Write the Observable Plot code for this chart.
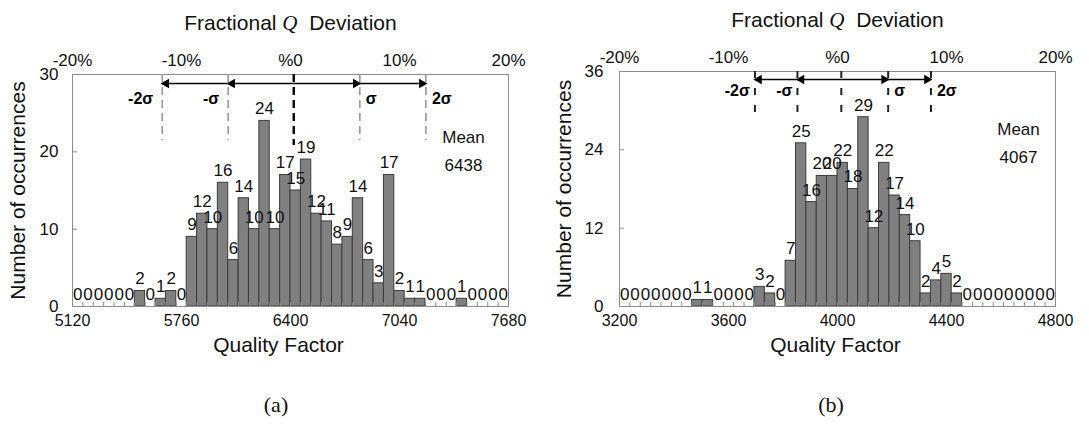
<!DOCTYPE html>
<html><head><meta charset="utf-8">
<script src="https://cdn.jsdelivr.net/npm/d3@7"></script>
<script src="https://cdn.jsdelivr.net/npm/@observablehq/plot@0.6"></script>
<style>
body{margin:0;background:#fff;}
#wrap{width:1089px;height:430px;position:relative;overflow:hidden;}
#row{display:flex;}
.cap{position:absolute;top:392px;line-height:26px;font-family:"Liberation Serif","Times New Roman",serif;font-size:22px;color:#111;transform:translateX(-50%);}
</style></head><body>
<div id="wrap"><div id="row"></div>
<div class="cap" style="left:276px">(a)</div>
<div class="cap" style="left:831px">(b)</div>
</div>
<script>
// ---------- data ----------
const binRangeA = [5120, 7680];
const countsA = [0,0,0,0,0,0,2,0,1,2,0,9,12,10,16,6,14,10,24,10,17,15,19,12,11,8,9,14,6,3,17,2,1,1,0,0,0,1,0,0,0,0];
const xTicksA = [5120, 5760, 6400, 7040, 7680];
const yTicksA = [0, 10, 20, 30];
const sigmaLinesA = [5647, 6034, 6419, 6807, 7195];
const meanA = "6438";

const binRangeB = [3200, 4800];
const countsB = [0,0,0,0,0,0,0,1,1,0,0,0,0,3,2,0,7,25,16,20,20,22,18,29,12,22,17,14,10,2,4,5,2,0,0,0,0,0,0,0,0,0];
const xTicksB = [3200, 3600, 4000, 4400, 4800];
const yTicksB = [0, 12, 24, 36];
const sigmaLinesB = [3697, 3853, 4014, 4186, 4343];
const meanB = "4067";

const topTickLabels = ["-20%", "-10%", "%0", "10%", "20%"];
const sigmaLabels = ["-2σ", "-σ", "", "σ", "2σ"];
const xTitle = "Quality Factor";
const yTitle = "Number of occurrences";
const topTitle = "Fractional Q Deviation";
const meanLabel = "Mean";

// ---------- drawing ----------
const FONT = "Liberation Sans, Arial, sans-serif";

function panel(cfg) {
  const {counts, range, xTicks, yTicks, sigma, mean, width, height, ml, mr, mt, mb, st} = cfg;
  const n = counts.length;
  const w = (range[1] - range[0]) / n;
  const bins = counts.map((c, i) => ({x1: range[0] + i * w, x2: range[0] + (i + 1) * w, c}));
  const edges = bins.map(d => d.x1).slice(1);
  const yMax = yTicks[yTicks.length - 1];
  const frameW = width - ml - mr, frameH = height - mt - mb;
  const sig = sigma.map((x, i) => ({x, label: sigmaLabels[i], i}));
  const top = () => yMax;
  const svg = Plot.plot({
    width, height, marginLeft: ml, marginRight: mr, marginTop: mt, marginBottom: mb,
    x: {domain: range}, y: {domain: [0, yMax]},
    style: {fontFamily: FONT, color: "#111", background: "#fff", overflow: "visible"},
    marks: [
      Plot.rectY(bins.filter(d => d.c > 0), {x1: "x1", x2: "x2", y: "c", fill: "#808080", stroke: "#3c3c3c", strokeWidth: 1}),
      Plot.tickX(edges, {x: d => d, stroke: "#8c8c8c", insetTop: frameH - 4}),
      Plot.tickY(yTicks.slice(1, -1), {y: d => d, stroke: "#8c8c8c", insetRight: frameW - 5}),
      Plot.frame({stroke: "#8c8c8c"}),
      Plot.axisX({anchor: "bottom", ticks: xTicks, tickSize: 0, tickPadding: 8, fontSize: 16, label: null,
                  tickFormat: d => String(d)}),
      Plot.axisX({anchor: "top", ticks: xTicks, tickSize: 0, tickPadding: 9, fontSize: 17, label: null,
                  tickFormat: d => topTickLabels[xTicks.indexOf(d)]}),
      Plot.axisY({ticks: yTicks, tickSize: 0, tickPadding: st.yPad, fontSize: 17, label: null,
                  tickFormat: d => String(d)}),
      // sigma dashed lines
      Plot.ruleX(sig.filter(d => d.i !== 2), {x: "x", stroke: st.dashColor, strokeWidth: st.dashWidth,
                  strokeDasharray: st.dash, insetBottom: frameH - st.dashLen}),
      Plot.ruleX(sig.filter(d => d.i === 2), {x: "x", stroke: st.centerColor, strokeWidth: st.centerWidth,
                  strokeDasharray: st.dash, insetBottom: frameH - st.centerLen}),
      // arrows
      Plot.ruleY([yMax], {x1: sigma[0], x2: sigma[4], dy: st.arrowDy, stroke: "#000", strokeWidth: 1.5}),
      Plot.dot(sig.filter(d => d.i < 2), {x: "x", y: top, dx: 4, dy: st.arrowDy, symbol: "triangle", rotate: -90, r: 3.6, fill: "#000", stroke: "none"}),
      Plot.dot(sig.filter(d => d.i > 2), {x: "x", y: top, dx: -4, dy: st.arrowDy, symbol: "triangle", rotate: 90, r: 3.6, fill: "#000", stroke: "none"}),
      // sigma labels
      Plot.text(sig.filter(d => d.i < 2), {x: "x", y: top, text: "label", textAnchor: "end", dx: st.leftGap, dy: st.sigDy, fontWeight: "bold", fontSize: 16, fill: "#000"}),
      Plot.text(sig.filter(d => d.i > 2), {x: "x", y: top, text: "label", textAnchor: "start", dx: 6, dy: st.sigDy, fontWeight: "bold", fontSize: 16, fill: "#000"}),
      // bar labels
      Plot.text(bins, {x: d => (d.x1 + d.x2) / 2, y: "c", text: d => String(d.c), dy: -12, fontSize: 17, fill: "#111"}),
      // mean
      Plot.text([meanLabel], {frameAnchor: "top-right", textAnchor: "middle", lineAnchor: "middle", dx: st.meanDx, dy: st.meanDy, fontSize: 17, fill: "#111"}),
      Plot.text([mean], {frameAnchor: "top-right", textAnchor: "middle", lineAnchor: "middle", dx: st.meanDx, dy: st.meanDy + 28, fontSize: 17, fill: "#111"}),
      // titles
      Plot.text([xTitle], {frameAnchor: "bottom", textAnchor: "middle", lineAnchor: "middle", dx: st.xTitleDx, dy: 39, fontSize: 21, fill: "#111"}),
      Plot.text([yTitle], {frameAnchor: "left", textAnchor: "middle", lineAnchor: "middle", rotate: -90, dx: st.yTitleDx, fontSize: 21, fill: "#111"}),
      Plot.text([topTitle], {frameAnchor: "top", textAnchor: "middle", lineAnchor: "middle", dy: -51, fontSize: 21, fill: "#111"})
    ]
  });
  // italic serif Q in the top title
  svg.querySelectorAll("text").forEach(t => {
    if (t.textContent === topTitle) {
      const parts = topTitle.split("Q");
      t.textContent = "";
      const ns = "http://www.w3.org/2000/svg";
      const a = document.createElementNS(ns, "tspan"); a.textContent = parts[0];
      const q = document.createElementNS(ns, "tspan"); q.textContent = "Q";
      q.setAttribute("font-family", "Liberation Serif, Times New Roman, serif");
      q.setAttribute("font-style", "italic");
      const b = document.createElementNS(ns, "tspan"); b.textContent = " " + parts[1];
      t.append(a, q, b);
    }
  });
  return svg;
}

const row = document.getElementById("row");
row.append(panel({
  counts: countsA, range: binRangeA, xTicks: xTicksA, yTicks: yTicksA, sigma: sigmaLinesA, mean: meanA,
  width: 545, height: 375, ml: 72, mr: 37, mt: 74, mb: 69,
  st: {yPad: 14, dashColor: "#999", dashWidth: 1.6, centerColor: "#000", centerWidth: 2.4, dash: "8,5",
       dashLen: 66, centerLen: 71, arrowDy: 9, sigDy: 24, leftGap: -9, meanDx: -45, meanDy: 63, xTitleDx: -12, yTitleDx: -54}
}));
row.append(panel({
  counts: countsB, range: binRangeB, xTicks: xTicksB, yTicks: yTicksB, sigma: sigmaLinesB, mean: meanB,
  width: 544, height: 375, ml: 74, mr: 34, mt: 71, mb: 69,
  st: {yPad: 16, dashColor: "#222", dashWidth: 2, centerColor: "#222", centerWidth: 2, dash: "7,10",
       dashLen: 42, centerLen: 42, arrowDy: 8, sigDy: 19, leftGap: -5, meanDx: -37, meanDy: 58, xTitleDx: -2, yTitleDx: -55}
}));
</script>
</body></html>
